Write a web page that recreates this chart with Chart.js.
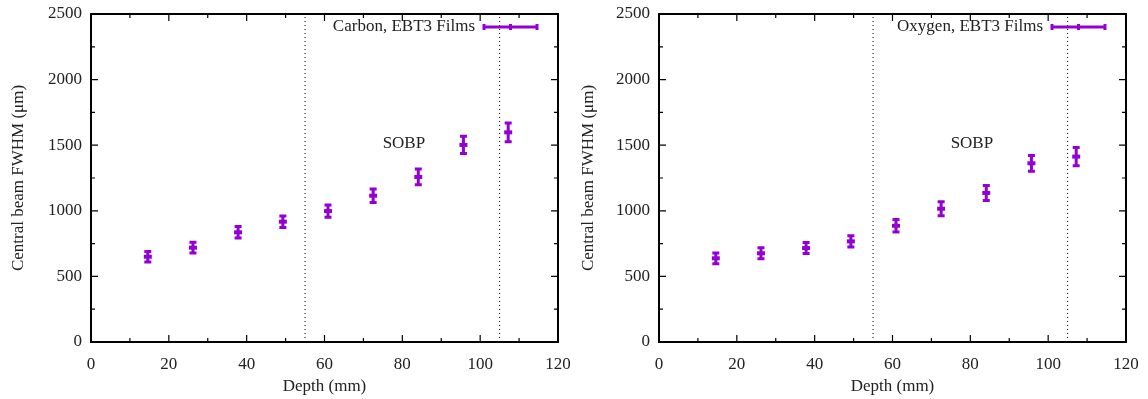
<!DOCTYPE html>
<html lang="en">
<head>
<meta charset="UTF-8">
<title>Central beam FWHM vs depth</title>
<script src="https://cdn.jsdelivr.net/npm/chart.js"></script>
<style>
  body { margin: 0; background: #fff; }
  .panel { position: absolute; top: 0; width: 580px; height: 399px; }
</style>
</head>
<body>
<div class="panel" style="left:0"><canvas id="carbonChart" width="580" height="399"></canvas></div>
<div class="panel" style="left:568px"><canvas id="oxygenChart" width="580" height="399"></canvas></div>
<script>
  // values
  const depths = [14.6, 26.2, 37.8, 49.3, 60.9, 72.5, 84.1, 95.7, 107.2];
  const carbonFwhm = [650, 719, 836, 917, 998, 1115, 1258, 1502, 1598];
  const carbonErr = [40, 41, 44, 44, 47, 52, 60, 66, 72];
  const oxygenFwhm = [638, 676, 716, 767, 886, 1016, 1136, 1362, 1413];
  const oxygenErr = [41, 42, 42, 43, 48, 53, 57, 60, 70];
  const sobpEdges = [55, 105];
  const sobpLabel = { x: 80.4, y: 1509, text: 'SOBP' };
  const xTicks = [0, 20, 40, 60, 80, 100, 120];
  const yTicks = [0, 500, 1000, 1500, 2000, 2500];
  const xMinor = [10, 30, 50, 70, 90, 110];
  const yMinor = [250, 750, 1250, 1750, 2250];

  const violet = '#9400d3';
  Chart.defaults.font.family = '"Liberation Serif", "DejaVu Serif", serif';
  Chart.defaults.font.size = 17;
  Chart.defaults.color = '#222';

  // vertical error bars + inward ticks + frame + key + SOBP text
  const gnuplotLook = {
    id: 'gnuplotLook',
    afterDatasetsDraw(chart) {
      const ctx = chart.ctx;
      const xs = chart.scales.x, ys = chart.scales.y;
      const ds = chart.data.datasets[0];
      ctx.save();
      ctx.strokeStyle = violet;
      ctx.lineWidth = 3;
      ds.data.forEach((p, i) => {
        const px = xs.getPixelForValue(p.x);
        const top = ys.getPixelForValue(p.y + ds.errors[i]);
        const bot = ys.getPixelForValue(p.y - ds.errors[i]);
        ctx.beginPath();
        ctx.moveTo(px, top); ctx.lineTo(px, bot);
        ctx.moveTo(px - 3.5, top); ctx.lineTo(px + 3.5, top);
        ctx.moveTo(px - 3.5, bot); ctx.lineTo(px + 3.5, bot);
        ctx.stroke();
      });
      ctx.restore();
    },
    afterDraw(chart) {
      const ctx = chart.ctx;
      const a = chart.chartArea;
      const xs = chart.scales.x, ys = chart.scales.y;
      ctx.save();
      ctx.strokeStyle = '#000';
      ctx.lineWidth = 1.2;
      ctx.beginPath();
      const tickX = (v, len) => {
        const px = xs.getPixelForValue(v);
        ctx.moveTo(px, a.bottom); ctx.lineTo(px, a.bottom - len);
        ctx.moveTo(px, a.top); ctx.lineTo(px, a.top + len);
      };
      const tickY = (v, len) => {
        const py = ys.getPixelForValue(v);
        ctx.moveTo(a.left, py); ctx.lineTo(a.left + len, py);
        ctx.moveTo(a.right, py); ctx.lineTo(a.right - len, py);
      };
      xTicks.forEach(v => tickX(v, 7));
      xMinor.forEach(v => tickX(v, 4));
      yTicks.forEach(v => tickY(v, 7));
      yMinor.forEach(v => tickY(v, 4));
      ctx.stroke();
      ctx.lineWidth = 2;
      ctx.strokeRect(a.left, a.top, a.right - a.left, a.bottom - a.top);

      // SOBP label
      ctx.fillStyle = '#222';
      ctx.font = Chart.defaults.font.size + 'px ' + Chart.defaults.font.family;
      ctx.textAlign = 'center';
      ctx.textBaseline = 'middle';
      ctx.fillText(sobpLabel.text, xs.getPixelForValue(sobpLabel.x), ys.getPixelForValue(sobpLabel.y));

      // key, gnuplot style
      const ly = a.top + 13;
      ctx.textAlign = 'right';
      ctx.fillText(chart.data.datasets[0].label, a.right - 83, ly);
      const x0 = a.right - 74, x1 = a.right - 21, xm = (x0 + x1) / 2;
      ctx.strokeStyle = violet;
      ctx.lineWidth = 3;
      ctx.beginPath();
      ctx.moveTo(x0, ly); ctx.lineTo(x1, ly);
      ctx.moveTo(x0, ly - 3); ctx.lineTo(x0, ly + 3);
      ctx.moveTo(x1, ly - 3); ctx.lineTo(x1, ly + 3);
      ctx.moveTo(xm, ly - 3); ctx.lineTo(xm, ly + 3);
      ctx.stroke();
      ctx.restore();
    }
  };

  function makeChart(id, label, values, errors, titleGap) {
    const datasets = [{
      label: label,
      data: depths.map((d, i) => ({ x: d, y: values[i] })),
      errors: errors,
      pointStyle: 'line',
      pointRadius: 4,
      pointHoverRadius: 4,
      borderColor: violet,
      backgroundColor: violet,
      pointBorderWidth: 4
    }];
    sobpEdges.forEach(e => datasets.push({
      label: 'edge',
      data: [{ x: e, y: yTicks[0] }, { x: e, y: yTicks[yTicks.length - 1] }],
      showLine: true,
      borderColor: '#000',
      borderWidth: 1,
      borderDash: [1, 3],
      pointRadius: 0
    }));

    new Chart(document.getElementById(id), {
      type: 'scatter',
      data: { datasets },
      options: {
        responsive: false,
        animation: false,
        events: [],
        layout: { padding: { top: 14, right: 22, left: 0, bottom: 0 } },
        plugins: { legend: { display: false }, tooltip: { enabled: false } },
        scales: {
          x: {
            min: xTicks[0], max: xTicks[xTicks.length - 1],
            afterBuildTicks: s => { s.ticks = xTicks.map(v => ({ value: v })); },
            afterFit: s => { s.height = 57; s.paddingLeft = 0; s.paddingRight = 0; },
            grid: { display: false, drawTicks: false },
            border: { display: false },
            ticks: { padding: 12, maxRotation: 0, callback: v => String(v) },
            title: { display: true, text: 'Depth (mm)', padding: { top: 0, bottom: 2 } }
          },
          y: {
            min: yTicks[0], max: yTicks[yTicks.length - 1],
            afterBuildTicks: s => { s.ticks = yTicks.map(v => ({ value: v })); },
            afterFit: s => { s.width = 91; s.paddingTop = 0; s.paddingBottom = 0; },
            grid: { display: false, drawTicks: false },
            border: { display: false },
            ticks: { padding: 9, callback: v => String(v) },
            title: { display: true, text: 'Central beam FWHM (μm)', padding: { top: titleGap, bottom: 0 } }
          }
        }
      },
      plugins: [gnuplotLook]
    });
  }

  makeChart('carbonChart', 'Carbon, EBT3 Films', carbonFwhm, carbonErr, 8);
  makeChart('oxygenChart', 'Oxygen, EBT3 Films', oxygenFwhm, oxygenErr, 10);
</script>
</body>
</html>
